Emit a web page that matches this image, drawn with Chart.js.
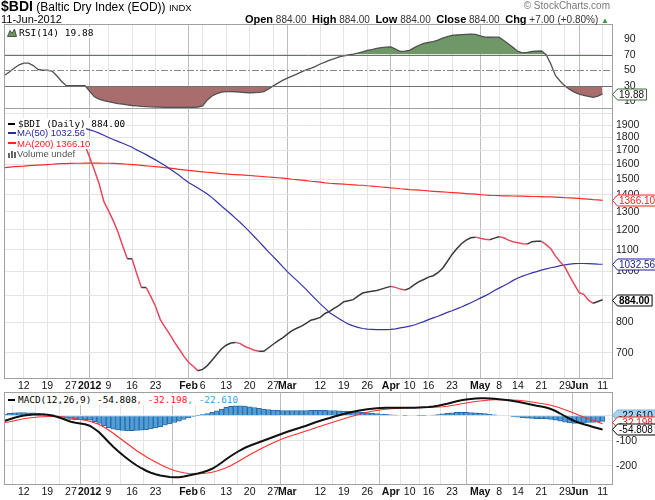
<!DOCTYPE html>
<html><head><meta charset="utf-8">
<script src="https://cdn.jsdelivr.net/npm/chart.js@4.4.1/dist/chart.umd.min.js"></script>
<style>
html,body{margin:0;padding:0;background:#fff;}
#wrap{position:relative;width:655px;height:500px;overflow:hidden;font-family:"Liberation Sans",Arial,sans-serif;color:#000;}
canvas{position:absolute;left:0;}
.t{position:absolute;white-space:nowrap;}
.leg div{background:#fff;width:fit-content;height:10.4px;line-height:10.4px;padding-left:3px;padding-right:1px;}
.ic{display:inline-block;width:7px;height:2px;vertical-align:middle;margin-right:3px;position:relative;top:-1px;}
.hb{font-size:11px;color:#000;font-weight:bold;}
</style></head><body>
<div id="wrap">
  <canvas id="rsi" width="655" height="100" style="top:15px"></canvas>
  <canvas id="main" width="655" height="295" style="top:99px"></canvas>
  <canvas id="macd" width="655" height="117" style="top:383px"></canvas>

  <div class="t" style="left:1px;top:-2px;line-height:16px"><b style="font-size:14px">$BDI</b><span style="font-size:12px"> (Baltic Dry Index (EOD)) </span><span style="font-size:9.5px">INDX</span></div>
  <div class="t" style="left:1px;top:12.5px;font-size:11px;line-height:13px">11-Jun-2012</div>
  <div class="t" style="right:46px;top:12.5px;font-size:10px;line-height:13px;color:#333"><span class="hb">Open</span> 884.00 &nbsp;<span class="hb">High</span> 884.00 &nbsp;<span class="hb">Low</span> 884.00 &nbsp;<span class="hb">Close</span> 884.00 &nbsp;<span class="hb">Chg</span> +7.00 (+0.80%) <span style="color:#3a9a3a;font-size:8px">&#9650;</span></div>
  <div class="t" style="right:45px;top:0px;font-size:10px;line-height:12px;color:#777">&copy; StockCharts.com</div>

  <div class="t" style="left:7px;top:27px;font:9.5px 'DejaVu Sans Mono',monospace;line-height:11px;background:#fff;padding-right:2px">
    <svg width="10" height="9" style="vertical-align:-1px;margin-right:2px"><path d="M0.5,8.5 L3,2.5 L5,5.5 L7.5,1 L9.5,8.5 Z" fill="#6a9a5c" stroke="#333" stroke-width="0.8"/></svg>RSI(14) 19.88</div>

  <div class="t leg" style="left:5px;top:118px">
    <div style="font:9.4px 'DejaVu Sans Mono',monospace;color:#000"><span class="ic" style="background:#000"></span>$BDI (Daily) 884.00</div>
    <div style="font-size:9.5px;color:#2828a0"><span class="ic" style="background:#2828a0;width:8px;margin-right:1px"></span>MA(50) 1032.56</div>
    <div style="font-size:9.5px;color:#ff2020"><span class="ic" style="background:#ff2020;width:8px;margin-right:1px"></span>MA(200) 1366.10</div>
    <div style="font-size:9.5px;color:#555"><svg width="8" height="8" style="vertical-align:-1px;margin-right:1px"><rect x="0" y="3" width="2" height="5" fill="#666"/><rect x="3" y="1" width="2" height="7" fill="#666"/><rect x="6" y="2" width="2" height="6" fill="#666"/></svg>Volume undef</div>
  </div>

  <div class="t" style="left:5px;top:394px;font:9.4px 'DejaVu Sans Mono',monospace;line-height:11px;background:#fff;padding-left:3px;padding-right:2px"><span class="ic" style="background:#000"></span>MACD(12,26,9) -54.808<span style="color:#ff2020">, -32.198</span><span style="color:#3aa0e0">, -22.610</span></div>
</div>
<script>
// ---------- categories (trading days) ----------
const tradingMonths = [
  ['2011-12', [6,7,8,9,12,13,14,15,16,19,20,21,22,23,27,28,29,30]],
  ['2012-01', [3,4,5,6,9,10,11,12,13,16,17,18,19,20,23,24,25,26,27,30,31]],
  ['2012-02', [1,2,3,6,7,8,9,10,13,14,15,16,17,20,21,22,23,24,27,28,29]],
  ['2012-03', [1,2,5,6,7,8,9,12,13,14,15,16,19,20,21,22,23,26,27,28,29,30]],
  ['2012-04', [2,3,4,5,10,11,12,13,16,17,18,19,20,23,24,25,26,27,30]],
  ['2012-05', [1,2,3,4,8,9,10,11,14,15,16,17,18,21,22,23,24,25,29,30,31]],
  ['2012-06', [1,5,6,7,8,11]]
];
const tickDates = ['2011-12-12','2011-12-19','2011-12-27','2012-01-03','2012-01-09','2012-01-16','2012-01-23','2012-02-01','2012-02-06','2012-02-13','2012-02-20','2012-02-27','2012-03-01','2012-03-12','2012-03-19','2012-03-26','2012-04-02','2012-04-10','2012-04-16','2012-04-23','2012-05-01','2012-05-08','2012-05-14','2012-05-21','2012-05-29','2012-06-01','2012-06-11'];
const tickText = ['12','19','27','2012','9','16','23','Feb','6','13','20','27','Mar','12','19','26','Apr','10','16','23','May','8','14','21','29','Jun','11'];
const boldTicks = ['2012','Feb','Mar','Apr','May','Jun'];

// ---------- series ----------
const price = [1880,1895,1910,1920,1925,1915,1900,1870,1860,1860,1860,1820,1780,1738,1738,1738,1738,1738,
  1650,1560,1470,1360,1305,1250,1190,1120,1058,1058,990,932,932,896,858,810,784,760,734,712,690,
  672,660,647,651,662,678,695,712,724,731,733,729,720,714,708,705,705,716,727,738,748,
  760,772,780,787,797,808,812,818,832,840,852,862,876,880,884,898,910,914,917,920,926,932,
  937,933,926,922,930,944,957,966,976,982,995,1015,1045,1078,1105,1130,1148,1160,1163,
  1157,1152,1150,1158,1165,1160,1148,1140,1135,1130,1128,1140,1142,1142,1125,1105,1070,1043,1020,980,945,
  912,905,882,870,877,884];
const ma50 = [1905,1903,1902,1900,1899,1898,1897,1895,1893,1892,1890,1888,1886,1884,1882,1880,1877,1874,
  1862,1850,1835,1818,1800,1785,1770,1755,1740,1725,1705,1688,1670,1650,1632,1612,1592,1570,1548,1525,1500,
  1478,1460,1442,1424,1405,1383,1358,1333,1310,1287,1263,1240,1215,1190,1165,1140,1115,1090,1068,1045,1022,
  1000,980,962,943,925,905,886,868,852,835,824,813,803,794,788,783,779,777,776,775,775,775,
  776,778,781,784,787,791,797,803,810,816,822,829,836,842,849,856,864,872,881,
  890,899,908,920,930,940,950,962,972,980,987,994,1000,1006,1012,1017,1021,1026,1030,1033,1035,
  1036,1036,1035,1034,1033,1032.56];
const ma200 = [1578,1581,1584,1586,1588,1591,1593,1595,1597,1599,1601,1603,1605,1606,1607,1608,1608,1609,
  1609,1609,1609,1608,1608,1607,1605,1603,1601,1599,1596,1593,1590,1587,1584,1581,1578,1574,1570,1566,1562,
  1558,1555,1552,1549,1546,1543,1540,1537,1535,1532,1530,1528,1526,1524,1521,1519,1516,1514,1512,1509,1506,
  1503,1499,1496,1493,1490,1486,1483,1480,1476,1473,1471,1469,1467,1465,1463,1461,1460,1457,1455,1452,1449,1446,
  1443,1441,1438,1436,1433,1431,1429,1427,1424,1422,1420,1418,1416,1414,1412,1410,1408,1406,1404,
  1401,1399,1397,1396,1395,1394,1394,1393,1392,1392,1391,1390,1390,1389,1388,1387,1386,1385,1383,1382,1380,
  1378,1376,1374,1371,1369,1366.1];
const rsi = [44,48,53,57,59,59,56,51,50,50,49,43,36,30.3,30.3,30.3,30.3,30.3,
  23,16,13,11,9.8,8.5,7.3,6.6,5.8,4.9,4.5,3.9,3.5,3.2,2.9,2.7,2.6,2.6,2.6,2.6,2.6,2.6,2.6,3,4.5,
  12,17,20,22,22.6,22.6,22.5,22,21.5,21.2,21.3,21.8,22.6,
  26,30,33.5,37,40,42.5,45,48,50.5,52.5,55,58,60.5,63,65,67,68.5,69.5,70.5,72,73.5,75.5,76.5,78,79,79.5,80,
  77,74,74.5,75.5,79,82,84.5,85.5,86.6,88.5,91,93,94.5,95.1,95.5,95.8,96.2,96,94,92.5,92.2,92.3,92.3,
  88,83.5,79,74,72.3,73,74,74.3,74.6,70,58,43,36,30,25.5,22,19.5,18,16.5,15.4,17,19.88];
const macd = [-20,-14,-8,-3,1,3,5,5,5,4,1,-4,-10,-17,-24,-28,-31,-34,-40,-52,
  -66,-85,-105,-124,-141,-157,-172,-186,-199,-210,-220,-228,-234,-239,-242,-245,-246,-246,-243,-239,
  -235,-231,-226,-220,-212,-201,-188,-174,-161,-149,-138,-128,-120,-113,-106,-99,-92,-85,-78,-71,
  -64,-58,-52,-46,-40,-33,-26,-20,-14,-9,-3,2,7,12,16,20,23,26,28,30,
  31,32,32,32,32,32,32,32,33,34,35,37,40,44,48,53,58,62,65,67,
  69,70,70,69,68,66,64,62,59,56,52,48,44,40,37,33,27,19,9,-2,
  -12,-21,-28,-34,-39,-45,-50,-54.808];
const signal = [-27,-24,-20,-16,-12,-9,-7,-5,-4,-3,-3,-3,-4,-6,-9,-12,-15,-18,-22,-28,
  -35,-45,-57,-70,-84,-98,-112,-126,-140,-152,-164,-175,-185,-195,-204,-212,-219,-224,-228,-231,
  -232,-232,-231,-229,-226,-221,-215,-208,-199,-189,-178,-167,-156,-146,-136,-126,-117,-108,-100,-92,
  -85,-79,-73,-67,-61,-55,-48,-42,-36,-30,-24,-18,-12,-6,-1,4,9,14,18,21,
  24,26,28,29,30,31,32,32,32,33,33,34,35,36,38,41,44,48,51,54,
  57,59,61,63,64,64,64,64,63,62,60,58,55,52,49,46,42,37,31,24,
  17,10,2,-5,-12,-18,-25,-32.198];
const histogram = [7,10,12,13,13,12,12,10,9,7,4,-1,-6,-11,-15,-16,-16,-16,-18,-24,
  -31,-40,-48,-54,-57,-59,-60,-60,-59,-58,-56,-53,-49,-44,-38,-33,-27,-22,-15,-8,
  -3,1,5,9,14,20,27,34,38,40,40,39,36,33,30,27,25,23,22,21,
  21,21,21,21,21,22,22,22,22,21,21,20,19,18,17,16,14,12,10,9,
  7,6,4,3,2,1,0,0,1,1,2,3,5,8,10,12,14,14,14,13,
  12,11,9,6,4,2,0,-2,-4,-6,-8,-10,-11,-12,-12,-13,-15,-18,-22,-26,
  -29,-31,-30,-29,-27,-27,-25,-22.61];

// ---------- axis tick values ----------
const priceTicks = [700,800,900,1000,1100,1200,1300,1400,1500,1600,1700,1800,1900,2000];
const priceTickLabels = ['700','800','','1000','1100','1200','1300','1400','1500','1600','1700','1800','1900',''];
const rsiTicks = [10,30,50,70,90];
const macdTicks = [-200,-100,0];

// ---------- build labels ----------
const labels = [];
tradingMonths.forEach(([ym, days]) => days.forEach(d => labels.push(ym + '-' + String(d).padStart(2, '0'))));
labels.push(' ', '  ');
const tickMap = {};
tickDates.forEach((d, k) => { tickMap[labels.indexOf(d)] = tickText[k]; });

Chart.defaults.font.family = '"Liberation Sans", Arial, sans-serif';
Chart.defaults.animation = false;
Chart.defaults.plugins.legend.display = false;
Chart.defaults.plugins.tooltip.enabled = false;
Chart.defaults.events = [];

const FONT = '"Liberation Sans", Arial, sans-serif';
const tickIdx = c => (c.tick && c.tick.value !== undefined ? c.tick.value : c.index);

function xScale(show) {
  return {
    type: 'category', offset: false,
    border: {display: false},
    grid: {drawTicks: false, lineWidth: 1,
      color: c => { const t = tickMap[tickIdx(c)]; if (t === undefined) return 'rgba(0,0,0,0)'; return boldTicks.includes(t) ? '#bdbdbd' : '#e4e4e4'; }},
    ticks: {display: show, autoSkip: false, maxRotation: 0, minRotation: 0, padding: 2, color: '#111',
      font: c => ({family: FONT, size: 10.5, weight: boldTicks.includes(tickMap[tickIdx(c)]) ? 'bold' : 'normal'}),
      callback: (v, i) => (tickMap[v] === undefined ? null : tickMap[v])},
    afterFit: s => { s.height = show ? 16 : 0; s.paddingLeft = 0; s.paddingRight = 0; }
  };
}
function yScale(extra) {
  return Object.assign({
    position: 'right',
    border: {display: false},
    grid: {drawTicks: false, color: '#e4e4e4'},
    afterFit: s => { s.width = 43; s.paddingTop = 0; s.paddingBottom = 0; }
  }, extra);
}

function tag(ctx, x, y, text, o) {
  ctx.save();
  ctx.font = (o.bold ? 'bold ' : '') + '10px ' + FONT;
  const w = ctx.measureText(text).width;
  const h = 11;
  y = Math.round(y) + 0.5;
  ctx.beginPath();
  ctx.moveTo(x + 0.5, y);
  ctx.lineTo(x + 5.5, y - h / 2);
  ctx.lineTo(x + 9.5 + w, y - h / 2);
  ctx.lineTo(x + 9.5 + w, y + h / 2);
  ctx.lineTo(x + 5.5, y + h / 2);
  ctx.closePath();
  ctx.fillStyle = o.fill || '#fff'; ctx.fill();
  ctx.lineWidth = 1; ctx.strokeStyle = o.stroke; ctx.stroke();
  ctx.fillStyle = o.color; ctx.textBaseline = 'middle'; ctx.textAlign = 'left';
  ctx.fillText(text, x + 7, y + 0.5);
  ctx.restore();
}

const panel = {
  id: 'panel',
  afterDatasetsDraw(chart, args, opts) {
    if (!opts.rsiLines) return;
    const {ctx, chartArea: a, scales} = chart;
    ctx.save();
    ctx.lineWidth = 1;
    [[70, []], [30, []], [50, [7, 2, 2, 2]]].forEach(([v, dash]) => {
      const y = Math.round(scales.y.getPixelForValue(v)) + 0.5;
      ctx.strokeStyle = v === 50 ? '#888' : '#707070';
      ctx.setLineDash(dash);
      ctx.beginPath(); ctx.moveTo(a.left, y); ctx.lineTo(a.right, y); ctx.stroke();
    });
    ctx.restore();
  },
  afterDraw(chart, args, opts) {
    const {ctx, chartArea: a, scales} = chart;
    ctx.save();
    ctx.strokeStyle = '#a0a0a0'; ctx.lineWidth = 1;
    ctx.strokeRect(Math.round(a.left) - 0.5, Math.round(a.top) - 0.5, Math.round(a.right - a.left) + 1, Math.round(a.bottom - a.top) + 1);
    ctx.restore();
    const list = (opts.tags || []).map(t => Object.assign({}, t, {py: scales.y.getPixelForValue(t.value)}));
    list.sort((p, q) => q.py - p.py);
    for (let k = 1; k < list.length; k++) {
      if (list[k - 1].py - list[k].py < opts.gap) list[k].py = list[k - 1].py - opts.gap;
    }
    list.reverse().forEach(t => tag(ctx, Math.round(a.right), t.py, t.text, t));
  }
};

const common = {responsive: false, devicePixelRatio: 1, animation: false};

// RSI panel
new Chart(document.getElementById('rsi'), {
  type: 'line',
  data: {labels, datasets: [
    {data: rsi, borderColor: '#505050', borderWidth: 1.3, pointRadius: 0,
     fill: {target: {value: 70}, above: '#6f9768', below: 'rgba(0,0,0,0)'}},
    {data: rsi, borderColor: 'rgba(0,0,0,0)', borderWidth: 0, pointRadius: 0,
     fill: {target: {value: 30}, above: 'rgba(0,0,0,0)', below: '#a96d6d'}}
  ]},
  options: Object.assign({}, common, {
    layout: {padding: {left: 5, right: 0, top: 10, bottom: 7}},
    scales: {
      x: xScale(false),
      y: yScale({min: 1.7, max: 107.9, grid: {display: false},
        afterBuildTicks: s => { s.ticks = rsiTicks.map(v => ({value: v})); },
        ticks: {padding: 4, color: '#222', font: {size: 10.5}, callback: v => String(v)}})
    },
    plugins: {panel: {rsiLines: true, gap: 12, tags: [{value: 19.88, text: '19.88', stroke: '#3d6a3d', color: '#111'}]}}
  }),
  plugins: [panel]
});

// Price panel
new Chart(document.getElementById('main'), {
  type: 'line',
  data: {labels, datasets: [
    {data: price, borderWidth: 1.5, pointRadius: 0, borderColor: '#3a3a3a',
     segment: {borderColor: c => (c.p1.parsed.y < c.p0.parsed.y ? '#e8485e' : '#3a3a3a')}},
    {data: ma50, borderColor: '#3535a5', borderWidth: 1.2, pointRadius: 0},
    {data: ma200, borderColor: '#ff2a2a', borderWidth: 1.2, pointRadius: 0}
  ]},
  options: Object.assign({}, common, {
    layout: {padding: {left: 5, right: 0, top: 10, bottom: 0}},
    scales: {
      x: xScale(true),
      y: yScale({type: 'logarithmic', min: 627, max: 2040,
        afterBuildTicks: s => { s.ticks = priceTicks.map(v => ({value: v})); },
        ticks: {padding: 4, color: '#222', font: {size: 10.5}, callback: v => priceTickLabels[priceTicks.indexOf(v)]}})
    },
    plugins: {panel: {gap: 12, tags: [
      {value: 1366.10, text: '1366.10', stroke: '#ff2020', color: '#ff2020'},
      {value: 1032.56, text: '1032.56', stroke: '#2020a0', color: '#2020a0'},
      {value: 884, text: '884.00', stroke: '#000', color: '#000', bold: true}
    ]}}
  }),
  plugins: [panel]
});

// MACD panel
new Chart(document.getElementById('macd'), {
  type: 'bar',
  data: {labels, datasets: [
    {type: 'line', data: macd, borderColor: '#111', borderWidth: 2, pointRadius: 0},
    {type: 'line', data: signal, borderColor: '#ff3030', borderWidth: 1.2, pointRadius: 0},
    {type: 'bar', data: histogram, backgroundColor: '#4f9ed8', borderColor: '#2c6aa4', borderWidth: 1,
     barPercentage: 1, categoryPercentage: 1}
  ]},
  options: Object.assign({}, common, {
    layout: {padding: {left: 5, right: 0, top: 10, bottom: 0}},
    scales: {
      x: xScale(true),
      y: yScale({min: -273, max: 91,
        afterBuildTicks: s => { s.ticks = macdTicks.map(v => ({value: v})); },
        ticks: {padding: 4, color: '#222', font: {size: 10.5}, callback: v => String(v)}})
    },
    plugins: {panel: {gap: 7, tags: [
      {value: -22.61, text: '-22.610', stroke: '#6fb3e6', fill: '#a6d3f2', color: '#111'},
      {value: -32.198, text: '-32.198', stroke: '#ff2020', color: '#ff2020'},
      {value: -54.808, text: '-54.808', stroke: '#000', color: '#000'}
    ]}}
  }),
  plugins: [panel]
});
</script>
</body></html>
